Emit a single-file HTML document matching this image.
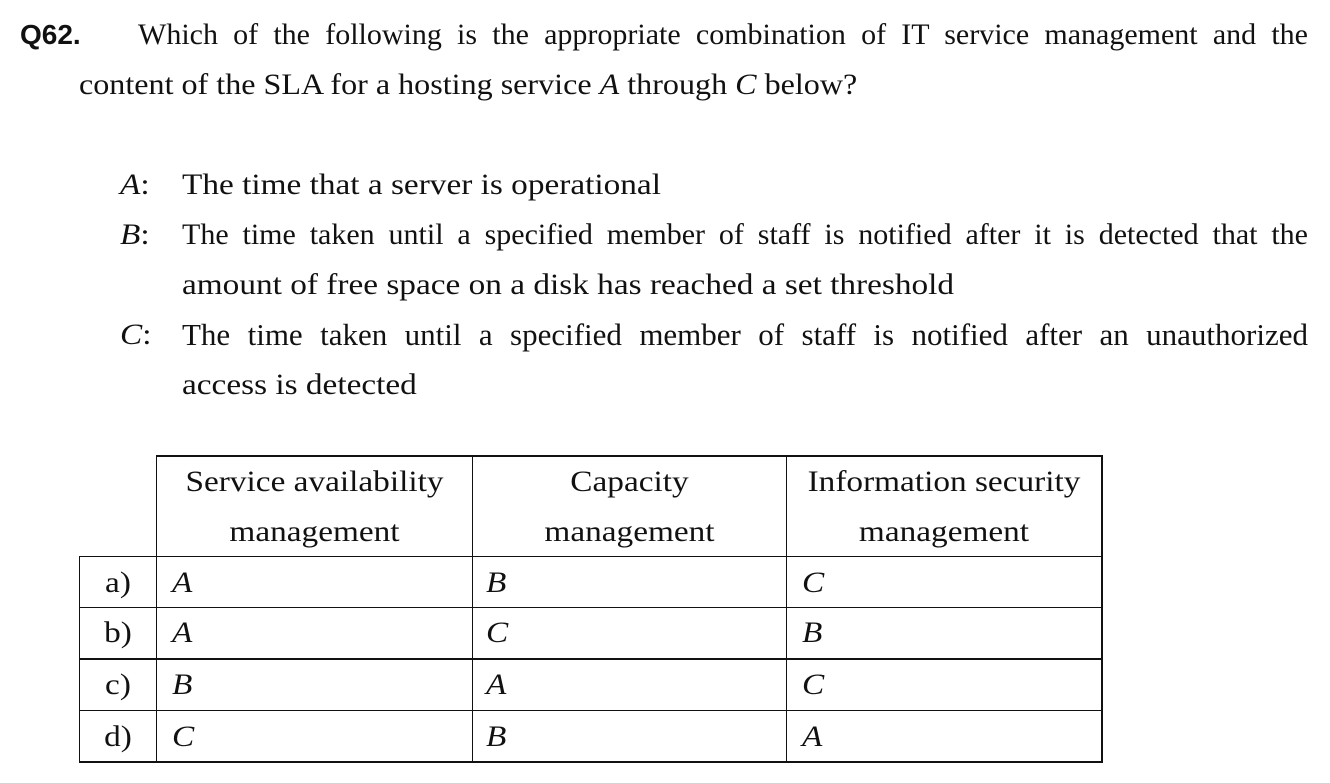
<!DOCTYPE html>
<html><head><meta charset="utf-8"><style>
body{margin:0;width:1330px;height:783px;background:#fff;position:relative;overflow:hidden;font-family:"Liberation Serif",serif;font-size:30px;color:#111}
.t{position:absolute;line-height:50px;white-space:nowrap;transform:scaleX(1.11);transform-origin:0 50%}
.j{position:absolute;line-height:50px;text-align:justify;text-align-last:justify;white-space:normal}
.h{position:absolute;background:#111}
.c{position:absolute;line-height:50px;text-align:center;transform:scaleX(1.11);transform-origin:50% 50%}
i{font-style:italic}
</style></head><body>
<div class="t" style="left:20px;top:10px;font-family:'Liberation Sans',sans-serif;font-weight:bold;font-size:28px;transform:none">Q62.</div>
<div class="j" style="left:138px;top:10px;width:1170px">Which of the following is the appropriate combination of IT service management and the</div>
<div class="t" style="left:79px;top:60px;transform:scaleX(1.07)">content of the SLA for a hosting service <i>A</i> through <i>C</i> below?</div>
<div class="t" style="left:120px;top:160px"><i>A</i>:</div>
<div class="t" style="left:182px;top:160px">The time that a server is operational</div>
<div class="t" style="left:120px;top:210px"><i>B</i>:</div>
<div class="j" style="left:182px;top:210px;width:1126px">The time taken until a specified member of staff is notified after it is detected that the</div>
<div class="t" style="left:182px;top:260px">amount of free space on a disk has reached a set threshold</div>
<div class="t" style="left:120px;top:310px"><i>C</i>:</div>
<div class="j" style="left:182px;top:310px;width:1126px;font-size:31px">The time taken until a specified member of staff is notified after an unauthorized</div>
<div class="t" style="left:182px;top:360px">access is detected</div>

<div class="h" style="left:156px;top:455px;width:947px;height:2px"></div>
<div class="h" style="left:79px;top:556px;width:1024px;height:1px"></div>
<div class="h" style="left:79px;top:607px;width:1024px;height:1px"></div>
<div class="h" style="left:79px;top:658px;width:1024px;height:2px"></div>
<div class="h" style="left:79px;top:710px;width:1024px;height:1px"></div>
<div class="h" style="left:79px;top:761px;width:1024px;height:2px"></div>
<div class="h" style="left:79px;top:556px;width:1px;height:207px"></div>
<div class="h" style="left:156px;top:455px;width:1px;height:308px"></div>
<div class="h" style="left:472px;top:455px;width:1px;height:308px"></div>
<div class="h" style="left:786px;top:455px;width:1px;height:308px"></div>
<div class="h" style="left:1101px;top:455px;width:2px;height:308px"></div>

<div class="c" style="left:157px;top:457px;width:315px">Service availability<br>management</div>
<div class="c" style="left:473px;top:457px;width:313px">Capacity<br>management</div>
<div class="c" style="left:787px;top:457px;width:314px">Information security<br>management</div>

<div class="c" style="left:80px;top:558px;width:76px">a)</div>
<div class="c" style="left:80px;top:608px;width:76px">b)</div>
<div class="c" style="left:80px;top:660px;width:76px">c)</div>
<div class="c" style="left:80px;top:712px;width:76px">d)</div>

<div class="t" style="left:172px;top:558px"><i>A</i></div>
<div class="t" style="left:172px;top:608px"><i>A</i></div>
<div class="t" style="left:172px;top:660px"><i>B</i></div>
<div class="t" style="left:172px;top:712px"><i>C</i></div>

<div class="t" style="left:486px;top:558px"><i>B</i></div>
<div class="t" style="left:486px;top:608px"><i>C</i></div>
<div class="t" style="left:486px;top:660px"><i>A</i></div>
<div class="t" style="left:486px;top:712px"><i>B</i></div>

<div class="t" style="left:802px;top:558px"><i>C</i></div>
<div class="t" style="left:802px;top:608px"><i>B</i></div>
<div class="t" style="left:802px;top:660px"><i>C</i></div>
<div class="t" style="left:802px;top:712px"><i>A</i></div>
</body></html>
